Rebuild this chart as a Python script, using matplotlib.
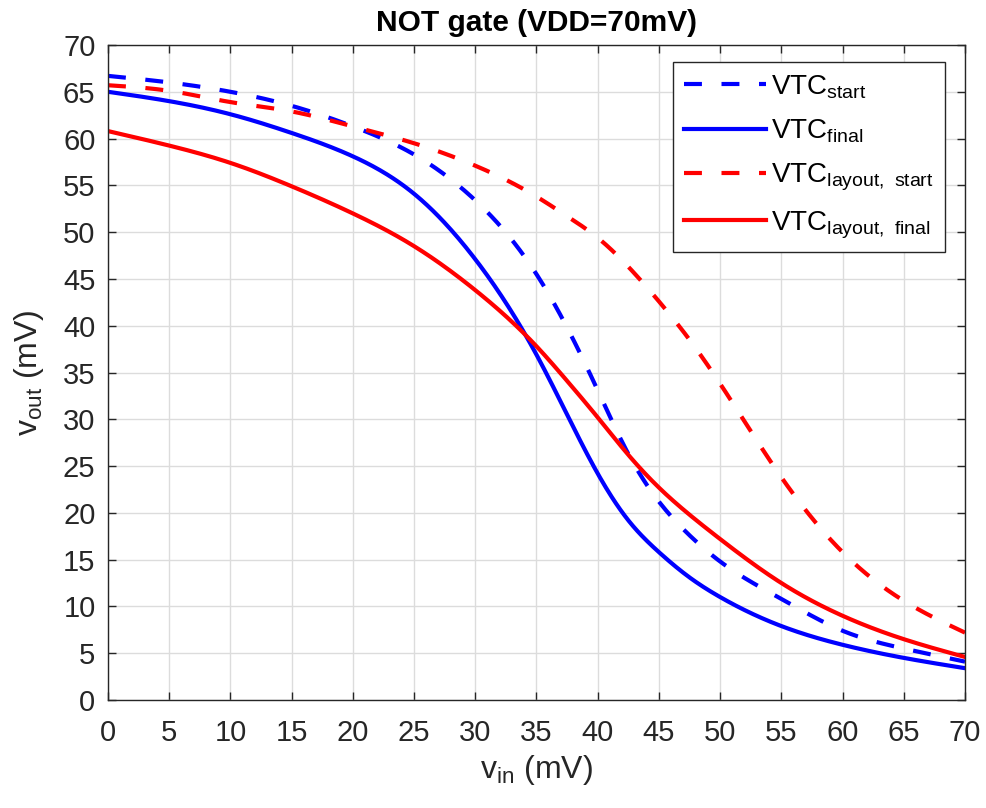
import matplotlib
matplotlib.use("Agg")
import matplotlib.pyplot as plt
import numpy as np
from matplotlib.ticker import MultipleLocator

plt.rcParams['font.family'] = ['Liberation Sans', 'DejaVu Sans']
plt.rcParams['mathtext.default'] = 'regular'

vin = [0, 5, 10, 15, 20, 25, 30, 35, 37.5, 40, 42.5, 45, 47.5, 50, 55, 60, 65, 70]

vtc_start = [66.7, 66.0, 65.0, 63.5, 61.3, 58.3, 53.4, 45.5, 39.8, 33.1, 26.3, 21.2, 17.6, 14.8, 10.8, 7.4, 5.5, 4.1]
vtc_final = [65.0, 64.0, 62.6, 60.6, 58.1, 54.1, 47.1, 36.9, 30.5, 24.2, 19.2, 15.8, 13.1, 11.0, 7.9, 5.9, 4.5, 3.4]
vtc_layout_start = [65.7, 65.1, 63.9, 62.9, 61.3, 59.5, 57.1, 53.8, 51.7, 49.4, 46.3, 42.6, 38.5, 33.8, 23.8, 15.8, 10.6, 7.2]
vtc_layout_final = [60.8, 59.25, 57.4, 54.9, 52.0, 48.5, 43.8, 37.8, 34.1, 30.2, 26.2, 22.7, 19.8, 17.2, 12.5, 9.0, 6.5, 4.6]

labels = [r'VTC$_{start}$', r'VTC$_{final}$',
          r'VTC$_{layout,\ start}$', r'VTC$_{layout,\ final}$']


def spline(x, y, n=600):
    """Natural cubic spline through the read-off points."""
    x = np.asarray(x, float); y = np.asarray(y, float)
    N = len(x)
    h = np.diff(x)
    A = np.zeros((N, N)); b = np.zeros(N)
    A[0, 0] = 1; A[-1, -1] = 1
    for i in range(1, N - 1):
        A[i, i - 1] = h[i - 1]
        A[i, i] = 2 * (h[i - 1] + h[i])
        A[i, i + 1] = h[i]
        b[i] = 3 * ((y[i + 1] - y[i]) / h[i] - (y[i] - y[i - 1]) / h[i - 1])
    c = np.linalg.solve(A, b)
    bb = (y[1:] - y[:-1]) / h - h * (2 * c[:-1] + c[1:]) / 3
    d = (c[1:] - c[:-1]) / (3 * h)
    xs = np.linspace(x[0], x[-1], n)
    idx = np.clip(np.searchsorted(x, xs) - 1, 0, N - 2)
    t = xs - x[idx]
    ys = y[idx] + bb[idx] * t + c[idx] * t**2 + d[idx] * t**3
    return xs, ys


fig = plt.figure(figsize=(9.86, 8.08), dpi=100)
ax = fig.add_axes([108/986, 108/808, 857/986, 655/808])

dash = (4.3, 4.7)
styles = [('#0000ff', (0, dash)), ('#0000ff', '-'), ('#ff0000', (0, dash)), ('#ff0000', '-')]
for series, (col, ls), lab in zip([vtc_start, vtc_final, vtc_layout_start, vtc_layout_final], styles, labels):
    xs, ys = spline(vin, series)
    ax.plot(xs, ys, color=col, lw=3, linestyle=ls, label=lab)

ax.set_xlim(0, 70)
ax.set_ylim(0, 70)
ax.xaxis.set_major_locator(MultipleLocator(5))
ax.yaxis.set_major_locator(MultipleLocator(5))
ax.grid(True, color='#dcdcdc', lw=1)
ax.set_axisbelow(True)
ax.tick_params(direction='in', top=True, right=True, length=6, width=1,
               labelsize=21, colors='#262626', labelcolor='#262626')
ax.tick_params(axis='x', pad=14)
ax.tick_params(axis='y', pad=9)
for s in ax.spines.values():
    s.set_color('#262626')
    s.set_linewidth(1)

ax.set_xlabel(r'v$_{in}$ (mV)', fontsize=23, color='#262626', labelpad=4)
ax.set_ylabel(r'v$_{out}$ (mV)', fontsize=23, color='#262626', labelpad=12)
ax.set_title('NOT gate (VDD=70mV)', fontsize=21.5, fontweight='bold', color='black', pad=10)

leg = ax.legend(loc='upper right', bbox_to_anchor=(945/986, (808-62)/808),
                bbox_transform=fig.transFigure, borderaxespad=0,
                fontsize=20, handlelength=2.95, frameon=True,
                fancybox=False, edgecolor='#262626', framealpha=1,
                labelspacing=0.6, handletextpad=0.2, borderpad=0.4)
leg.get_frame().set_linewidth(1)

fig.savefig('out.png', dpi=100)
